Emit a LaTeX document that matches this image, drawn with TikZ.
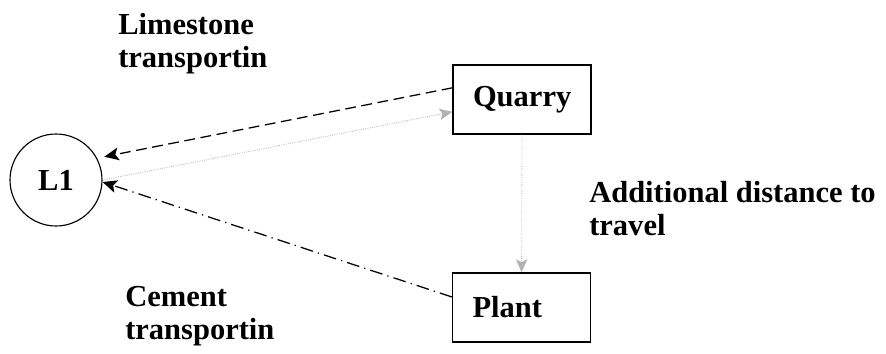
\documentclass[tikz,border=0pt]{standalone}
\usepackage{fontspec}
\setmainfont{Liberation Serif}
\usetikzlibrary{arrows.meta}

\begin{document}
\begin{tikzpicture}[
  txt/.style={font=\bfseries\fontsize{21.7}{23.5}\selectfont},
  site/.style={circle,draw=black,line width=0.8pt,minimum size=2.3cm,inner sep=0pt,txt},
  unitbox/.style={rectangle,draw=black,line width=0.9pt,minimum height=1.725cm,
    text width=2.45cm,inner xsep=0.5cm,align=left,txt},
  caption/.style={anchor=north west,inner sep=0pt,align=left,txt},
  haul/.style={line width=0.9pt,-{Stealth[length=0.36cm,width=0.32cm,inset=0.08cm]}},
  extra/.style={gray!60,line width=0.6pt,densely dotted,-{Stealth[length=0.32cm,width=0.28cm,inset=0.07cm]}}
]
\useasboundingbox (0,0) rectangle (22.15,8.825);

\node[site] (L1) at (1.4,4.325) {L1};
\node[unitbox] (quarry) at (13.05,6.34) {Quarry};
\node[unitbox] (plant) at (13.04,1.14) {Plant};

\node[caption] (limestone) at (2.95,8.5) {Limestone\\transportin};
\node[caption] (cement) at (3.125,1.675) {Cement\\transportin};
\node[caption] (distance) at (14.725,4.3) {Additional distance to\\travel};

\draw[haul,dash pattern=on 0.27cm off 0.14cm] ([yshift=0.29cm]quarry.west) -- ([xshift=0.2cm]L1.30);
\draw[extra] (L1.east) -- ([yshift=-0.31cm]quarry.west);
\draw[haul,dash pattern=on 0.32cm off 0.13cm on 0.03cm off 0.13cm] ([yshift=0.26cm]plant.west) -- ([yshift=-0.05cm]L1.east);
\draw[extra] (quarry.south) -- (plant.north);

\end{tikzpicture}
\end{document}
